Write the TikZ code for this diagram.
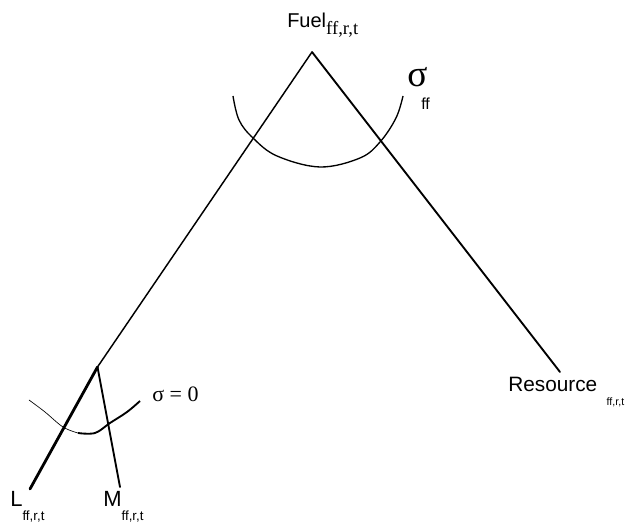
\documentclass[tikz,border=0pt]{standalone}
\usepackage{fontspec}
\setmainfont{Liberation Serif}
\setsansfont{Liberation Sans}
\usetikzlibrary{positioning}
\newcommand{\subsz}[1]{\sffamily\fontsize{#1}{#1}\selectfont}

\begin{document}
\begin{tikzpicture}[x=0.75pt, y=-0.75pt,
		lbl/.style={inner sep=0pt, font=\sffamily\fontsize{15}{15}\selectfont},
		ln/.style={line width=1.4pt, line cap=round},
		crv/.style={line width=1pt}
		]
		\useasboundingbox (0,0) rectangle (629,523);
		\coordinate (apex)   at (312,52);
		\coordinate (branch) at (97.5,367);
		\coordinate (lend)   at (30,489);
		\coordinate (mend)   at (120,487);
		\coordinate (rend)   at (560,372);
		\node[lbl, anchor=base west] (fuel) at (287,28)
			{Fuel{\rmfamily\fontsize{14}{14}\selectfont\raisebox{-5pt}{ff,r,t}}};
		\node[lbl, anchor=base west, font=\sffamily\fontsize{15.6}{15.6}\selectfont] (res) at (508,392)
			{Resource\hspace{7pt}{\subsz{8}\raisebox{-10pt}{ff,r,t}}};
		\node[lbl, anchor=base west, font=\sffamily\fontsize{16.5}{16.5}\selectfont] (lab) at (10,507)
			{L{\subsz{10}\raisebox{-10.5pt}{ff,r,t}}};
		\node[lbl, anchor=base west, font=\sffamily\fontsize{16.5}{16.5}\selectfont] (mab) at (103,507)
			{M{\subsz{10}\raisebox{-10.5pt}{ff,r,t}}};
		\node[inner sep=0pt, anchor=base west, font=\rmfamily\fontsize{16.5}{16.5}\selectfont] (szero) at (152,402)
			{σ = 0};
		\node[inner sep=0pt, anchor=base west, font=\rmfamily\fontsize{28}{28}\selectfont] (sff) at (407,87) {σ};
		\node[inner sep=0pt, anchor=base west, font=\subsz{12}] (sffsub) at (421,110) {ff};
		\draw[ln, line width=1.1pt] (apex) -- (branch);
		\draw[ln, line width=2.1pt] (branch) -- (lend);
		\draw[ln] (branch) -- (mend);
		\draw[ln] (apex) -- (rend);
		\draw[crv] plot[smooth, tension=0.6] coordinates {(233,96) (239,120) (253,138) (277,156) (320,167) (360,158) (380,142) (396,118) (403,96)};
		\draw[line width=0.5pt] plot[smooth, tension=0.6] coordinates {(29,400) (45,412) (63,427) (78,433)};
		\draw[line width=1.4pt] plot[smooth, tension=0.6] coordinates {(78,433) (95,433) (110,423) (127,412) (140,401)};
	\end{tikzpicture}
\end{document}
